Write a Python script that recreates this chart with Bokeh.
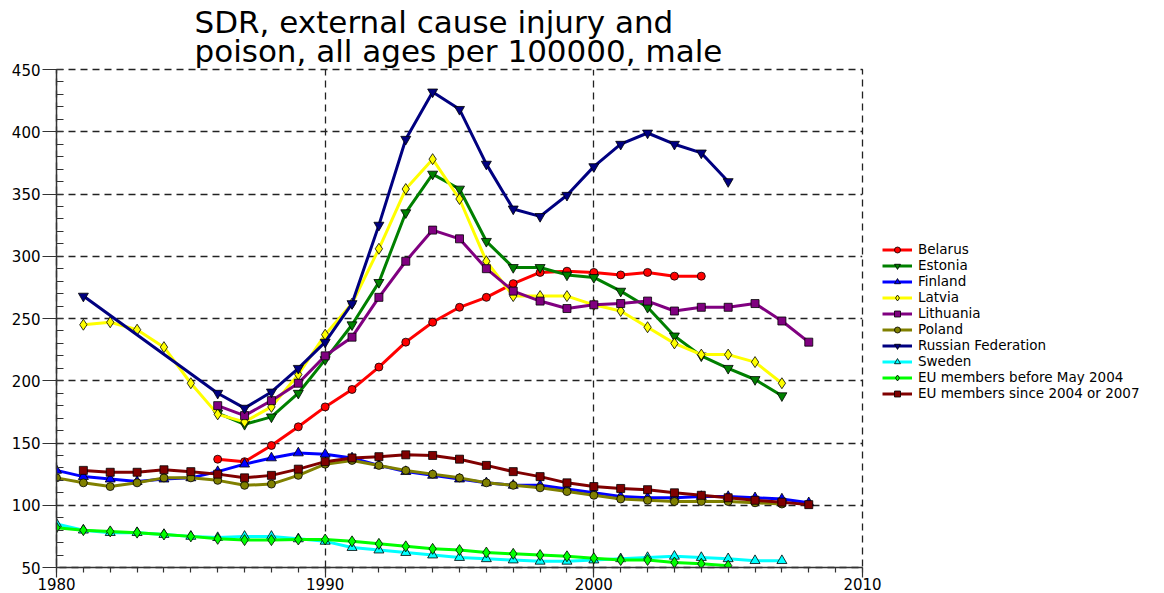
from bokeh.plotting import figure
from bokeh.layouts import row
from bokeh.models import Legend, LegendItem, Title, FixedTicker, Range1d
from bokeh.embed import file_html
from bokeh.resources import INLINE

# Standardised death rate, external causes of injury and poisoning, males, per 100000
belarus_years = list(range(1986, 2005))
belarus = [137, 135, 148, 163, 179, 193, 211, 231, 247, 259, 267, 278, 287, 288,
           287, 285, 287, 284, 284]

estonia_years = list(range(1986, 2008))
estonia = [174, 165, 171, 190, 217, 245, 279, 335, 366, 354, 312, 291, 291, 285,
           283, 272, 259, 236, 220, 210, 201, 188]

finland_years = list(range(1980, 2009))
finland = [128, 123, 121, 119, 121, 122, 127, 133, 138, 142,
           141, 138, 132, 127, 124, 121, 118, 116, 116, 113,
           110, 107, 106, 106, 107, 107, 106, 105, 102]

latvia_years = list(range(1981, 2008))
latvia = [245, 247, 241, 227, 198, 173, 167, 179, 205,
          237, 262, 306, 354, 378, 346, 296, 268, 268, 268,
          261, 256, 243, 230, 221, 221, 215, 198]

lithuania_years = list(range(1986, 2009))
lithuania = [180, 172, 184, 198,
             220, 235, 267, 296, 321, 314, 290, 272, 264, 258,
             261, 262, 264, 256, 259, 259, 262, 248, 231]

poland_years = list(range(1980, 2008))
poland = [122, 118, 115, 118, 122, 122, 120, 116, 117, 124,
          133, 136, 132, 128, 125, 122, 118, 116, 114, 111,
          108, 105, 104, 103, 103, 103, 102, 101]

russia_years = [1981] + list(range(1986, 2006))
russia = [268, 190, 178, 191, 210,
          231, 262, 325, 394, 432, 418, 374, 338, 332, 349,
          372, 390, 399, 390, 383, 360]

sweden_years = list(range(1980, 2008))
sweden = [85, 80, 78, 78, 76.5, 75, 74, 75, 75, 73,
          71, 66, 64, 62, 60, 58, 57, 56, 55, 55,
          56, 57, 58, 59, 58, 57, 55.5, 55.5]

eu_before_years = list(range(1980, 2006))
eu_before = [82, 80, 79, 78, 76.5, 75, 73, 72, 72, 72.5,
             72.5, 71, 69, 67, 65, 64, 62, 61, 60, 59,
             57.5, 56, 56, 54, 53, 51.5]

eu_since_years = list(range(1981, 2009))
eu_since = [128, 126.5, 126.5, 128.5, 127, 125, 122, 124, 129,
            135, 138, 139, 140.5, 140, 137, 132, 127, 123, 118,
            115, 113.5, 112.5, 110, 108, 106, 104, 102.5, 100.5]

series = [
    ("Belarus", belarus_years, belarus, "#FF0000", "circle", 8),
    ("Estonia", estonia_years, estonia, "#008000", "inverted_triangle", 10),
    ("Finland", finland_years, finland, "#0000FF", "triangle", 10),
    ("Latvia", latvia_years, latvia, "#FFFF00", "diamond", 11),
    ("Lithuania", lithuania_years, lithuania, "#800080", "square", 8),
    ("Poland", poland_years, poland, "#808000", "circle", 8),
    ("Russian Federation", russia_years, russia, "#000080", "inverted_triangle", 10),
    ("Sweden", sweden_years, sweden, "#00FFFF", "triangle", 10),
    ("EU members before May 2004", eu_before_years, eu_before, "#00FF00", "diamond", 11),
    ("EU members since 2004 or 2007", eu_since_years, eu_since, "#800000", "square", 8),
]

FONT = "DejaVu Sans"
GRID = "#222222"

p = figure(width=882, height=593, output_backend="svg", toolbar_location=None,
           x_range=Range1d(1980, 2010), y_range=Range1d(50, 450),
           min_border_left=56, min_border_right=20, min_border_top=69,
           min_border_bottom=26)
p.background_fill_color = "white"
p.border_fill_color = "white"
# dashed frame edge doubles as the 2010 / 450 grid lines
p.outline_line_color = GRID
p.outline_line_dash = "7 5"
p.outline_line_width = 1.3

p.add_layout(Title(text="SDR, external cause injury and\npoison, all ages per 100000, male",
                   align="left", offset=138, standoff=1,
                   text_font=FONT, text_font_size="31px", text_font_style="normal",
                   text_color="black", text_line_height=0.8), "above")

# axes
p.xaxis.ticker = FixedTicker(ticks=[1980, 1990, 2000, 2010],
                             minor_ticks=list(range(1980, 2011)))
p.yaxis.ticker = FixedTicker(ticks=list(range(50, 451, 50)),
                             minor_ticks=list(range(50, 451, 10)))
for ax in (p.xaxis, p.yaxis):
    ax.axis_line_color = "#333333"
    ax.axis_line_width = 1.5
    ax.major_tick_line_color = "#333333"
    ax.minor_tick_line_color = "#333333"
    ax.major_tick_line_width = 1.2
    ax.minor_tick_line_width = 1.2
    ax.major_label_text_font = FONT
    ax.major_label_text_font_size = "15px"
    ax.major_label_text_color = "black"

p.xaxis.major_tick_out = 10
p.xaxis.major_tick_in = 0
p.xaxis.minor_tick_out = 5
p.xaxis.minor_tick_in = 0
p.xaxis.major_label_standoff = 0

p.yaxis.major_tick_out = 14
p.yaxis.major_tick_in = 0
p.yaxis.minor_tick_out = 0
p.yaxis.minor_tick_in = 7
p.yaxis.major_label_standoff = 2

# dashed grid
for g in (p.xgrid, p.ygrid):
    g.grid_line_color = GRID
    g.grid_line_dash = "7 5"
    g.grid_line_width = 1.3
p.xgrid.ticker = FixedTicker(ticks=[1990, 2000])
p.ygrid.ticker = FixedTicker(ticks=list(range(100, 451, 50)))

for name, xs, ys, color, marker, size in series:
    p.line(xs, ys, line_color=color, line_width=3, line_join="round")
    p.scatter(xs, ys, marker=marker, size=size, fill_color=color,
              line_color="black", line_width=0.8)

# legend panel to the right of the chart; its swatch renderers hold a single
# point placed outside the visible range so only the legend shows them
lg = figure(width=282, height=593, output_backend="svg", toolbar_location=None,
            x_range=Range1d(0, 1), y_range=Range1d(0, 1), min_border=0,
            outline_line_color=None)
lg.axis.visible = False
lg.grid.visible = False
lg.background_fill_color = "white"
lg.border_fill_color = "white"

items = []
for name, xs, ys, color, marker, size in series:
    ln = lg.line([5, 6], [5, 6], line_color=color, line_width=3)
    sc = lg.scatter([5], [5], marker=marker, size=size, fill_color=color,
                    line_color="black", line_width=0.8)
    items.append(LegendItem(label=name, renderers=[ln, sc]))

legend = Legend(items=items, location=(0, 166), orientation="vertical",
                glyph_width=30, glyph_height=15, label_height=15, spacing=0,
                padding=0, margin=0, label_standoff=6,
                label_text_font=FONT, label_text_font_size="13.5px",
                label_text_color="black",
                border_line_color=None, background_fill_alpha=0)
lg.add_layout(legend, "center")

layout = row(p, lg, spacing=0)
open("out.html", "w").write(file_html(layout, INLINE))
